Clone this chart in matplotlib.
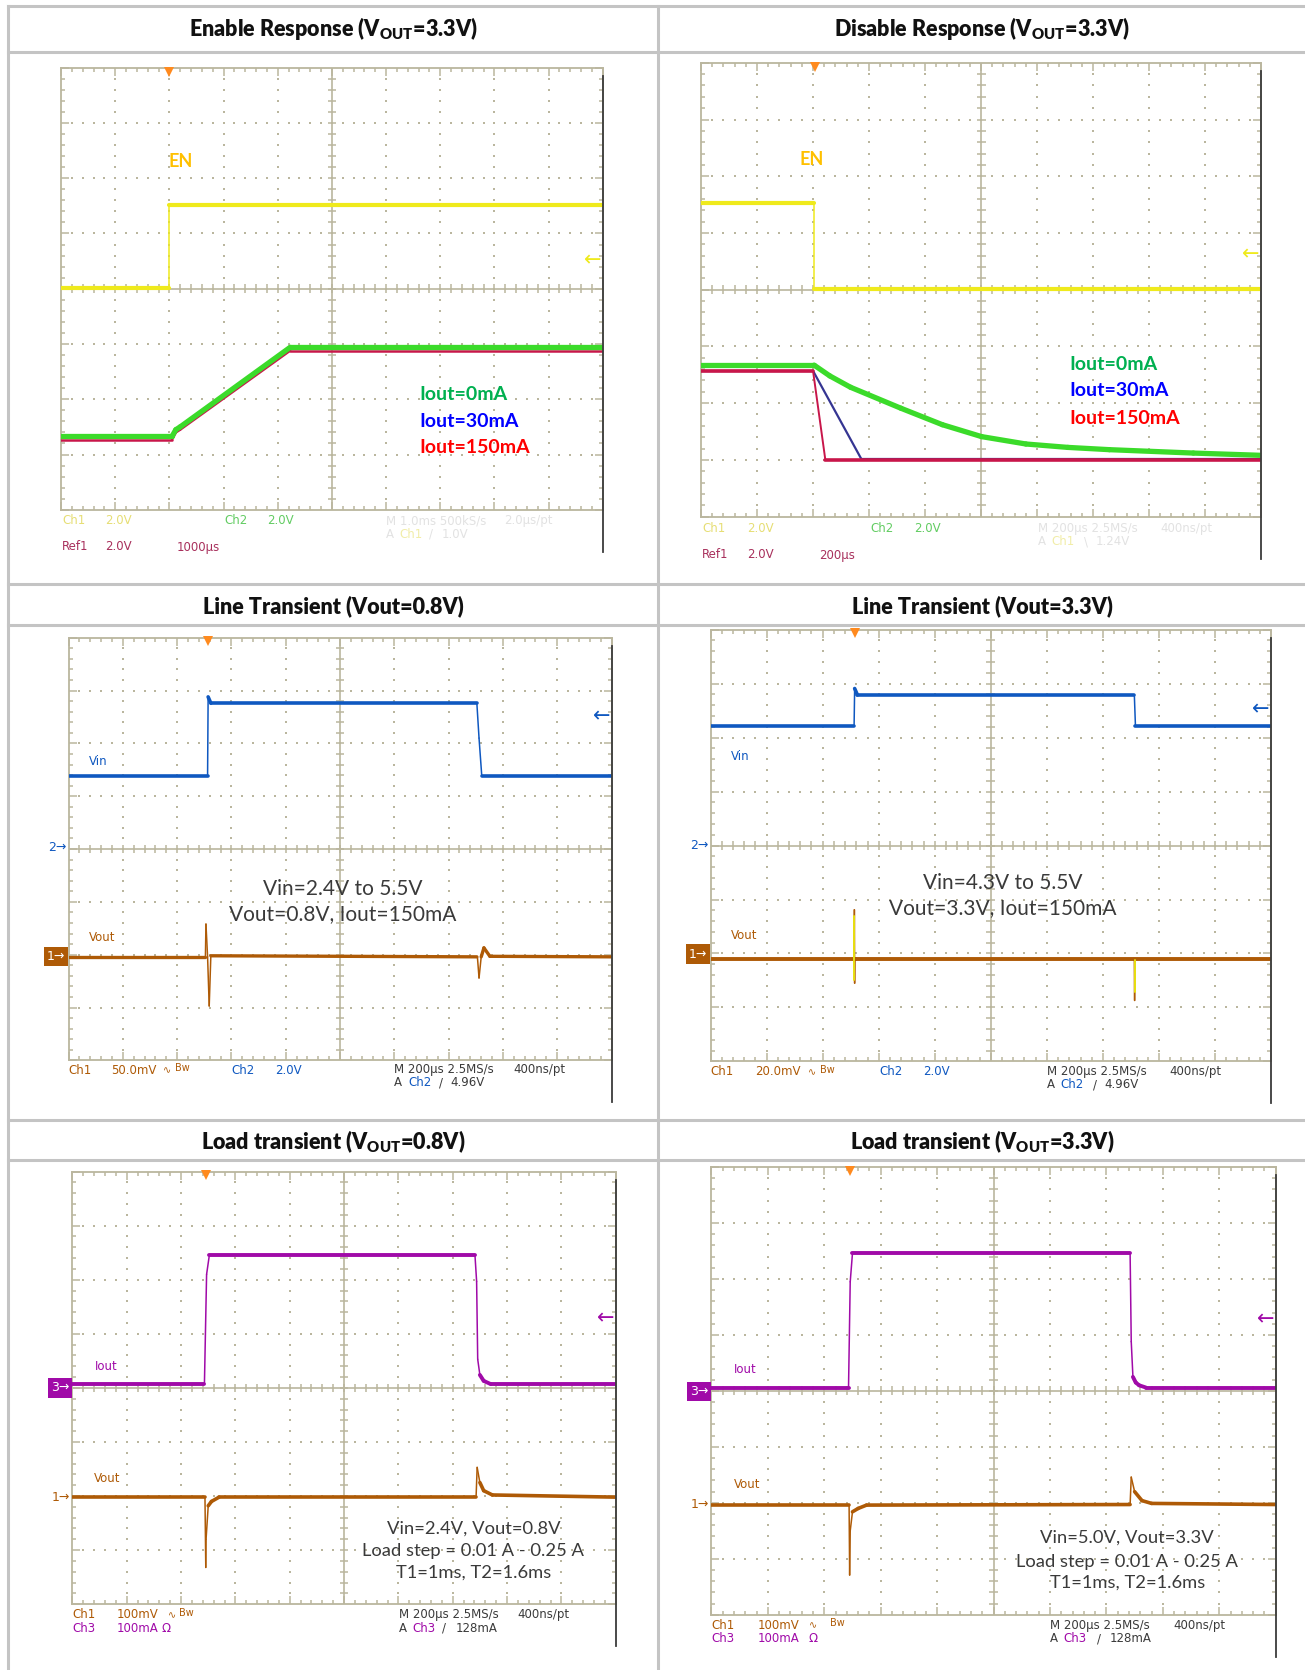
#!/usr/bin/env python
# coding: utf-8

"""
LDO scope captures: enable/disable, line transient and load transient
"""

import numpy as np
import matplotlib
matplotlib.use("Agg")
import matplotlib.pyplot as plt
from matplotlib.lines import Line2D
from matplotlib.collections import LineCollection
from matplotlib.ticker import MultipleLocator

W, H = 1305, 1670

# all traces in screen divisions (x: 0-10, y: 0-8)

# enable response
en_on_t = [0.0, 2.0, 2.0, 10.0]
en_on_v = [4.02, 4.02, 5.52, 5.52]
vout_on_t = [0.0, 2.05, 2.12, 2.2, 4.23, 10.0]
vout_on_v = [1.33, 1.33, 1.45, 1.50, 2.94, 2.94]
ref_on_v = [1.27, 1.27, 1.40, 1.45, 2.88, 2.88]

# disable response
en_off_t = [0.0, 2.02, 2.02, 10.0]
en_off_v = [5.53, 5.53, 4.01, 4.01]
off_0ma_t = [0.0, 2.02, 2.3, 2.67, 3.57, 4.31, 5.01, 5.8, 6.55, 7.29, 8.79, 10.0]
off_0ma_v = [2.67, 2.67, 2.48, 2.28, 1.91, 1.62, 1.41, 1.28, 1.22, 1.18, 1.12, 1.08]
off_30ma_t = [0.0, 2.0, 2.86, 10.0]
off_30ma_v = [2.57, 2.57, 1.02, 1.02]
off_150ma_t = [0.0, 2.0, 2.22, 10.0]
off_150ma_v = [2.57, 2.57, 1.0, 1.0]

# line transient, Vout = 0.8V
lt08_vin_t = [0.0, 2.56, 2.57, 2.62, 7.52, 7.56, 7.61, 10.0]
lt08_vin_v = [5.39, 5.39, 6.88, 6.76, 6.76, 6.1, 5.39, 5.39]
lt08_vout_t = [0.0, 2.52, 2.53, 2.56, 2.59, 2.62, 7.52, 7.53, 7.56, 7.6, 7.65, 7.76, 10.0]
lt08_vout_v = [1.96, 1.96, 2.58, 1.96, 1.03, 1.98, 1.96, 1.96, 1.56, 1.96, 2.13, 1.97, 1.96]

# line transient, Vout = 3.3V
lt33_vin_t = [0.0, 2.56, 2.57, 2.62, 7.56, 7.58, 10.0]
lt33_vin_v = [6.21, 6.21, 6.91, 6.79, 6.79, 6.21, 6.21]
lt33_vout_t = [0.0, 2.56, 2.565, 2.57, 2.575, 2.6, 7.56, 7.565, 7.57, 10.0]
lt33_vout_v = [1.9, 1.9, 2.81, 1.45, 1.9, 1.9, 1.9, 1.13, 1.9, 1.9]
lt33_ring_t = [2.566, 2.566, np.nan, 7.566, 7.566]
lt33_ring_v = [2.70, 1.50, np.nan, 1.88, 1.28]

# load transient, Vout = 0.8V
ld08_iout_t = [0.0, 2.43, 2.47, 2.52, 7.41, 7.44, 7.46, 7.50, 7.57, 7.7, 10.0]
ld08_iout_v = [4.07, 4.07, 6.10, 6.45, 6.45, 5.97, 4.53, 4.24, 4.13, 4.07, 4.07]
ld08_vout_t = [0.0, 2.44, 2.455, 2.46, 2.5, 2.56, 2.7, 7.43, 7.45, 7.50, 7.57, 7.73, 10.0]
ld08_vout_v = [1.98, 1.98, 0.68, 1.2, 1.82, 1.90, 1.98, 1.98, 2.53, 2.25, 2.10, 2.02, 1.98]

# load transient, Vout = 3.3V
ld33_iout_t = [0.0, 2.43, 2.46, 2.50, 7.42, 7.44, 7.47, 7.52, 7.58, 7.7, 10.0]
ld33_iout_v = [4.06, 4.06, 5.95, 6.46, 6.46, 4.88, 4.25, 4.15, 4.10, 4.06, 4.06]
ld33_vout_t = [0.0, 2.44, 2.45, 2.46, 2.5, 2.6, 2.75, 7.42, 7.44, 7.50, 7.63, 7.8, 10.0]
ld33_vout_v = [1.97, 1.97, 0.71, 1.5, 1.84, 1.90, 1.96, 1.97, 2.46, 2.20, 2.04, 1.99, 1.97]

GRID = "#BAB69E"
TABLE = "#C4C4C4"
YEL = "#EFEA1C"
GRN = "#3BDB2A"
RED = "#C8164A"
NAVY = "#353592"
VIN = "#0F58C0"
BRN = "#AE5A06"
PUR = "#A00AA8"
TXT = "#3A3A3A"

LBL = ["Liberation Sans Narrow", "DejaVu Sans"]
HEAD = ["Lato", "DejaVu Sans"]

fig = plt.figure(figsize=(W / 100, H / 100), dpi=100)
fig.patch.set_facecolor("white")


def fline(xs, ys, **kw):
    fig.add_artist(Line2D([x / W for x in xs], [1 - y / H for y in ys], **kw))


def ftext(x, y, s, **kw):
    kw.setdefault("family", LBL)
    kw.setdefault("fontsize", 8.5)
    kw.setdefault("va", "center")
    fig.text(x / W, 1 - y / H, s, **kw)


def scope_axes(box, trig):
    x0, y0, x1, y1 = box
    ax = fig.add_axes([x0 / W, 1 - y1 / H, (x1 - x0) / W, (y1 - y0) / H])
    ax.set_xlim(0, 10)
    ax.set_ylim(0, 8)
    for s in ax.spines.values():
        s.set_color(GRID)
        s.set_linewidth(1.3)
    ax.xaxis.set_major_locator(MultipleLocator(1))
    ax.xaxis.set_minor_locator(MultipleLocator(0.2))
    ax.yaxis.set_major_locator(MultipleLocator(1))
    ax.yaxis.set_minor_locator(MultipleLocator(0.2))
    ax.tick_params(which="both", direction="in", top=True, right=True,
                   color=GRID, width=1.1, labelbottom=False, labelleft=False)
    ax.tick_params(which="major", length=5.5)
    ax.tick_params(which="minor", length=2.8)

    # dotted graticule
    steps = np.arange(0.2, 10, 0.2)
    for gx in [1, 2, 3, 4, 6, 7, 8, 9]:
        ys = steps[steps < 8]
        ax.scatter(np.full(len(ys), gx), ys, s=1.6, marker="s", color=GRID, lw=0, zorder=1)
    for gy in [1, 2, 3, 5, 6, 7]:
        ax.scatter(steps, np.full(len(steps), gy), s=1.6, marker="s", color=GRID, lw=0, zorder=1)

    # centre cross with fine ticks
    ax.axvline(5, color=GRID, lw=1.2, zorder=1)
    ax.axhline(4, color=GRID, lw=1.2, zorder=1)
    segs = [[(k, 3.92), (k, 4.08)] for k in steps]
    segs += [[(4.92, k), (5.08, k)] for k in steps[steps < 8]]
    ax.add_collection(LineCollection(segs, colors=GRID, linewidths=1.1, zorder=1))

    # trigger position marker
    ax.plot([trig], [7.93], marker="v", color="#FF8A1E", ms=7, mew=0,
            clip_on=False, zorder=6)

    # dark edge from the capture frame
    fline([x1, x1], [y0 + 8, y1 + 42], color="#3C3C3C", lw=1.3)
    return ax


def trace(ax, t, v, color, lw, lw_edge=1.1, z=3):
    t = np.asarray(t, float)
    v = np.asarray(v, float)
    segs, widths = [], []
    for i in range(len(t) - 1):
        if np.isnan(t[i]) or np.isnan(t[i + 1]):
            continue
        segs.append([(t[i], v[i]), (t[i + 1], v[i + 1])])
        steep = abs(v[i + 1] - v[i]) > 4 * abs(t[i + 1] - t[i])
        widths.append(lw_edge if steep else lw)
    ax.add_collection(LineCollection(segs, colors=color, linewidths=widths,
                                     capstyle="round", zorder=z))


def left_tag(ax, level, s, color, boxed=False):
    if boxed:
        ax.text(-0.06, level, s, color="white", fontsize=9, family=LBL,
                ha="right", va="center", clip_on=False,
                bbox=dict(boxstyle="square,pad=0.25", fc=color, ec="none"))
    else:
        ax.text(-0.04, level, s, color=color, fontsize=9, family=LBL,
                ha="right", va="center", clip_on=False)


def right_arrow(ax, level, color):
    ax.text(9.82, level, "←", color=color, fontsize=15, family=LBL,
            ha="center", va="center")


# ---------------------------------------------------------------- table
fline([7.6, 7.6], [5.6, H], color=TABLE, lw=2.2)
fline([658.4, 658.4], [5.6, H], color=TABLE, lw=2.2)
for yy in [5.6, 51.5, 584.3, 624.5, 1119.6, 1160.3]:
    fline([7.6, W], [yy, yy], color=TABLE, lw=2.2)

head_kw = dict(family=HEAD, fontsize=15.5, fontweight="heavy", ha="center", color="#111111")
ftext(333, 29, r"Enable Response (V$_\mathregular{OUT}$=3.3V)", **head_kw)
ftext(982, 29, r"Disable Response (V$_\mathregular{OUT}$=3.3V)", **head_kw)
ftext(333, 606, "Line Transient (Vout=0.8V)", **head_kw)
ftext(982, 606, "Line Transient (Vout=3.3V)", **head_kw)
ftext(333, 1141.5, r"Load transient (V$_\mathregular{OUT}$=0.8V)", **head_kw)
ftext(982, 1141.5, r"Load transient (V$_\mathregular{OUT}$=3.3V)", **head_kw)

iout_kw = dict(family=HEAD, fontsize=14, fontweight="bold", ha="left", va="center")
note_kw = dict(family=HEAD, fontsize=15, color=TXT, ha="center", va="center", zorder=5)
load_kw = dict(note_kw, fontsize=13.2)

# ---------------------------------------------------------------- enable
ax1 = scope_axes((61.0, 67.7, 602.7, 509.8), 2.0)
trace(ax1, en_on_t, en_on_v, YEL, 3.0)
trace(ax1, vout_on_t, ref_on_v, RED, 1.8)
trace(ax1, vout_on_t, vout_on_v, GRN, 3.8, lw_edge=3.8, z=4)
ax1.text(1.98, 6.30, "EN", color="#FFC000", ha="left", va="center",
         family=HEAD, fontsize=13, fontweight="bold")
ax1.text(6.61, 2.08, "Iout=0mA", color="#00B050", **iout_kw)
ax1.text(6.61, 1.60, "Iout=30mA", color="#0000FF", **iout_kw)
ax1.text(6.61, 1.12, "Iout=150mA", color="#FF0000", **iout_kw)
right_arrow(ax1, 4.51, YEL)

ftext(62, 521, "Ch1", color="#E6DE74")
ftext(105, 521, "2.0V", color="#E6DE74")
ftext(224, 521, "Ch2", color="#62CC62")
ftext(267, 521, "2.0V", color="#62CC62")
ftext(386, 521, "M 1.0ms 500kS/s", color="#E2E2E2")
ftext(504, 521, "2.0µs/pt", color="#E2E2E2")
ftext(386, 534, "A", color="#E2E2E2")
ftext(399, 534, "Ch1", color="#F1EDA8")
ftext(429, 534, "/", color="#E2E2E2")
ftext(442, 534, "1.0V", color="#E2E2E2")
ftext(62, 547, "Ref1", color="#A8305C")
ftext(105, 547, "2.0V", color="#A8305C")
ftext(177, 547, "1000µs", color="#A8305C")

# ---------------------------------------------------------------- disable
ax2 = scope_axes((701.0, 62.8, 1261.1, 516.6), 2.03)
trace(ax2, en_off_t, en_off_v, YEL, 3.0)
trace(ax2, off_30ma_t, off_30ma_v, NAVY, 1.6, lw_edge=1.6)
trace(ax2, off_150ma_t, off_150ma_v, RED, 2.6, lw_edge=1.4)
trace(ax2, off_0ma_t, off_0ma_v, GRN, 3.8, lw_edge=3.8, z=4)
ax2.text(1.75, 6.29, "EN", color="#FFC000", ha="left", va="center",
         family=HEAD, fontsize=13, fontweight="bold")
ax2.text(6.57, 2.69, "Iout=0mA", color="#00B050", **iout_kw)
ax2.text(6.57, 2.22, "Iout=30mA", color="#0000FF", **iout_kw)
ax2.text(6.57, 1.73, "Iout=150mA", color="#FF0000", **iout_kw)
right_arrow(ax2, 4.62, YEL)

ftext(702, 528.6, "Ch1", color="#E6DE74")
ftext(747, 528.6, "2.0V", color="#E6DE74")
ftext(870, 528.6, "Ch2", color="#62CC62")
ftext(914, 528.6, "2.0V", color="#62CC62")
ftext(1038, 528.6, "M 200µs 2.5MS/s", color="#E2E2E2")
ftext(1160, 528.6, "400ns/pt", color="#E2E2E2")
ftext(1038, 541.8, "A", color="#E2E2E2")
ftext(1051, 541.8, "Ch1", color="#F1EDA8")
ftext(1084, 541.8, "\\", color="#E2E2E2")
ftext(1096, 541.8, "1.24V", color="#E2E2E2")
ftext(702, 555, "Ref1", color="#A8305C")
ftext(747, 555, "2.0V", color="#A8305C")
ftext(819, 555, "200µs", color="#A8305C")

# ---------------------------------------------------------------- line 0.8V
ax3 = scope_axes((68.6, 637.7, 611.5, 1060.4), 2.56)
trace(ax3, lt08_vin_t, lt08_vin_v, VIN, 2.6)
trace(ax3, lt08_vout_t, lt08_vout_v, BRN, 2.4)
ax3.text(0.38, 5.66, "Vin", color=VIN, fontsize=8.5, family=LBL, va="center")
ax3.text(0.38, 2.33, "Vout", color=BRN, fontsize=8.5, family=LBL, va="center")
ax3.text(5.05, 3.25, "Vin=2.4V to 5.5V", **note_kw)
ax3.text(5.05, 2.76, "Vout=0.8V, Iout=150mA", **note_kw)
left_tag(ax3, 4.03, "2→", VIN)
left_tag(ax3, 1.97, "1→", BRN, boxed=True)
right_arrow(ax3, 6.52, VIN)

ftext(68.6, 1070, "Ch1", color=BRN)
ftext(111.5, 1070, "50.0mV", color=BRN)
ftext(163, 1070, "∿", color=BRN, fontsize=7)
ftext(175, 1068, "Bw", color=BRN, fontsize=7)
ftext(231.5, 1070, "Ch2", color=VIN)
ftext(275, 1070, "2.0V", color=VIN)
ftext(394.4, 1070, "M 200µs 2.5MS/s", color=TXT)
ftext(513.5, 1070, "400ns/pt", color=TXT)
ftext(394.4, 1083, "A", color=TXT)
ftext(408, 1083, "Ch2", color=VIN)
ftext(439, 1083, "/", color=TXT)
ftext(450, 1083, "4.96V", color=TXT)

# ---------------------------------------------------------------- line 3.3V
ax4 = scope_axes((710.6, 629.7, 1271.1, 1061.4), 2.57)
trace(ax4, lt33_vin_t, lt33_vin_v, VIN, 2.6)
trace(ax4, lt33_vout_t, lt33_vout_v, BRN, 2.8)
trace(ax4, lt33_ring_t, lt33_ring_v, "#E8E010", 1.4, lw_edge=1.4, z=4)
ax4.text(0.37, 5.65, "Vin", color=VIN, fontsize=8.5, family=LBL, va="center")
ax4.text(0.37, 2.33, "Vout", color=BRN, fontsize=8.5, family=LBL, va="center")
ax4.text(5.22, 3.30, "Vin=4.3V to 5.5V", **note_kw)
ax4.text(5.22, 2.85, "Vout=3.3V, Iout=150mA", **note_kw)
left_tag(ax4, 4.0, "2→", VIN)
left_tag(ax4, 1.99, "1→", BRN, boxed=True)
right_arrow(ax4, 6.52, VIN)

ftext(710.6, 1071.8, "Ch1", color=BRN)
ftext(755, 1071.8, "20.0mV", color=BRN)
ftext(808, 1071.8, "∿", color=BRN, fontsize=7)
ftext(820, 1069.8, "Bw", color=BRN, fontsize=7)
ftext(879, 1071.8, "Ch2", color=VIN)
ftext(923.6, 1071.8, "2.0V", color=VIN)
ftext(1046.8, 1071.8, "M 200µs 2.5MS/s", color=TXT)
ftext(1169, 1071.8, "400ns/pt", color=TXT)
ftext(1046.8, 1085, "A", color=TXT)
ftext(1060.6, 1085, "Ch2", color=VIN)
ftext(1092.8, 1085, "/", color=TXT)
ftext(1104.5, 1085, "4.96V", color=TXT)

# ---------------------------------------------------------------- load 0.8V
ax5 = scope_axes((72.4, 1171.6, 615.7, 1604.2), 2.46)
trace(ax5, ld08_iout_t, ld08_iout_v, PUR, 2.8)
trace(ax5, ld08_vout_t, ld08_vout_v, BRN, 2.6)
ax5.text(0.41, 4.39, "Iout", color=PUR, fontsize=8.5, family=LBL, va="center")
ax5.text(0.39, 2.32, "Vout", color=BRN, fontsize=8.5, family=LBL, va="center")
ax5.text(7.38, 1.39, "Vin=2.4V, Vout=0.8V", **load_kw)
ax5.text(7.38, 0.98, "Load step = 0.01 A - 0.25 A", **load_kw)
ax5.text(7.38, 0.59, "T1=1ms, T2=1.6ms", **load_kw)
left_tag(ax5, 4.0, "3→", PUR, boxed=True)
left_tag(ax5, 1.98, "1→", BRN)
right_arrow(ax5, 5.28, PUR)

ftext(72.4, 1614.8, "Ch1", color=BRN)
ftext(117, 1614.8, "100mV", color=BRN)
ftext(167.5, 1614.8, "∿", color=BRN, fontsize=7)
ftext(179, 1612.8, "Bw", color=BRN, fontsize=7)
ftext(398.6, 1614.8, "M 200µs 2.5MS/s", color=TXT)
ftext(517.7, 1614.8, "400ns/pt", color=TXT)
ftext(72.4, 1628.3, "Ch3", color=PUR)
ftext(117, 1628.3, "100mA", color=PUR)
ftext(162, 1628.3, "Ω", color=PUR)
ftext(398.6, 1628.3, "A", color=TXT)
ftext(412.5, 1628.3, "Ch3", color=PUR)
ftext(442, 1628.3, "/", color=TXT)
ftext(455.8, 1628.3, "128mA", color=TXT)

# ---------------------------------------------------------------- load 3.3V
ax6 = scope_axes((711.4, 1167.0, 1275.7, 1614.8), 2.46)
trace(ax6, ld33_iout_t, ld33_iout_v, PUR, 2.8)
trace(ax6, ld33_vout_t, ld33_vout_v, BRN, 2.6)
ax6.text(0.39, 4.39, "Iout", color=PUR, fontsize=8.5, family=LBL, va="center")
ax6.text(0.39, 2.33, "Vout", color=BRN, fontsize=8.5, family=LBL, va="center")
ax6.text(7.37, 1.37, "Vin=5.0V, Vout=3.3V", **load_kw)
ax6.text(7.37, 0.95, "Load step = 0.01 A - 0.25 A", **load_kw)
ax6.text(7.37, 0.57, "T1=1ms, T2=1.6ms", **load_kw)
left_tag(ax6, 3.99, "3→", PUR, boxed=True)
left_tag(ax6, 1.97, "1→", BRN)
right_arrow(ax6, 5.28, PUR)

ftext(711.4, 1625.4, "Ch1", color=BRN)
ftext(757.8, 1625.4, "100mV", color=BRN)
ftext(808.7, 1625.4, "∿", color=BRN, fontsize=7)
ftext(829.6, 1623.4, "Bw", color=BRN, fontsize=7)
ftext(1050, 1625.4, "M 200µs 2.5MS/s", color=TXT)
ftext(1173, 1625.4, "400ns/pt", color=TXT)
ftext(711.4, 1638.9, "Ch3", color=PUR)
ftext(757.8, 1638.9, "100mA", color=PUR)
ftext(808.7, 1638.9, "Ω", color=PUR)
ftext(1050, 1638.9, "A", color=TXT)
ftext(1063.5, 1638.9, "Ch3", color=PUR)
ftext(1097, 1638.9, "/", color=TXT)
ftext(1109.5, 1638.9, "128mA", color=TXT)

fig.savefig("out.png", dpi=100, facecolor="white")
